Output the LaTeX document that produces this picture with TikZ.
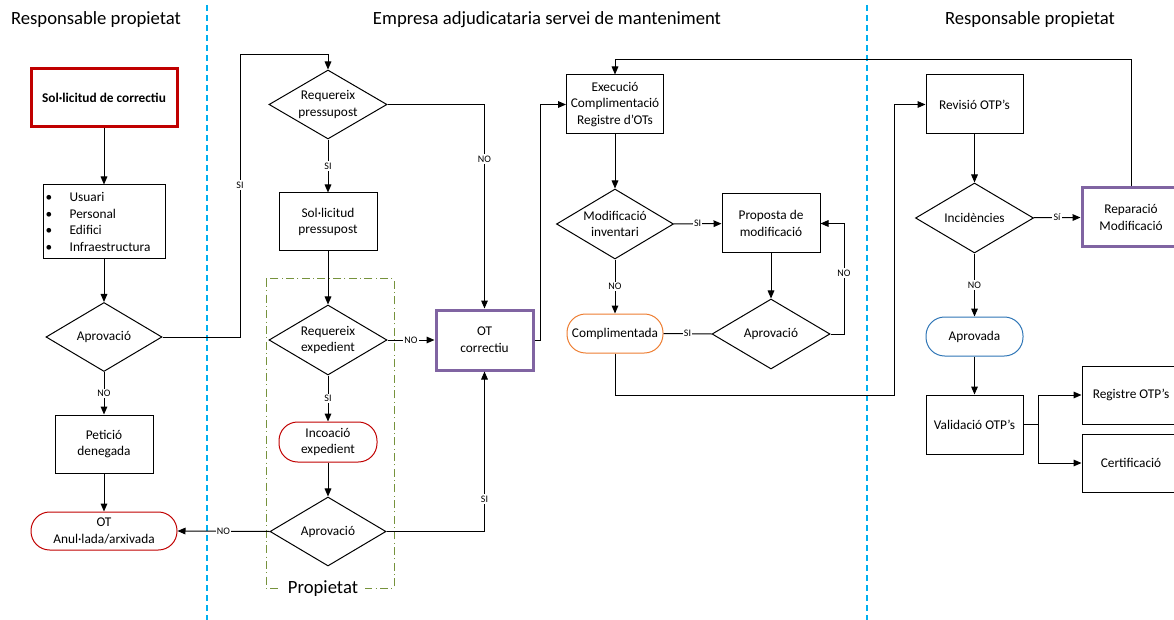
\documentclass[tikz,border=0pt]{standalone}
\usepackage{fontspec}
\setmainfont{Carlito}
\usetikzlibrary{arrows.meta,shapes.geometric}
\definecolor{dred}{HTML}{C00000}
\definecolor{purp}{HTML}{8064A2}
\definecolor{orng}{HTML}{ED7D31}
\definecolor{blu}{HTML}{2E75B6}
\definecolor{divc}{HTML}{00B0F0}
\definecolor{olivegr}{HTML}{76923C}
\begin{document}
\begin{tikzpicture}[x=0.75pt,y=-0.75pt,
  font=\fontsize{10}{12.5}\selectfont,
  ln/.style={draw=black,line width=0.75pt},
  arr/.style={-{Triangle[length=6pt,width=5pt]}},
  sz/.style 2 args={minimum width=#1*0.75pt,minimum height=#2*0.75pt},
  box/.style={rectangle,draw=black,line width=0.75pt,inner sep=1pt,align=center},
  thickred/.style={box,draw=dred,line width=2.25pt},
  thickpurp/.style={box,draw=purp,line width=2.25pt},
  stad/.style={box,rounded corners=14pt},
  dia/.style={diamond,draw=black,line width=0.75pt,inner sep=0pt},
  lbl/.style={fill=white,inner sep=1pt,font=\fontsize{7.5}{9}\selectfont},
  title/.style={font=\fontsize{14}{17}\selectfont},
  divider/.style={draw=divc,line width=1pt,dash pattern=on 4.5pt off 3pt},
  propbox/.style={draw=olivegr,line width=0.75pt,dash pattern=on 6pt off 2.5pt on 0.75pt off 2.5pt}]
\useasboundingbox (0,0) rectangle (1174,620);
\clip (0,0) rectangle (1174,620);

% dividers and titles
\draw[divider] (207,5) -- (207,620);
\draw[divider] (867,5) -- (867,620);
\node[title] (t1) at (96,20) {Responsable propietat};
\node[title] (t2) at (547,20) {Empresa adjudicataria servei de manteniment};
\node[title] (t3) at (1030,20) {Responsable propietat};

% Propietat group
\draw[propbox] (266,279) rectangle (394,588);
\node[title,fill=white,inner xsep=5pt,inner ysep=1pt] (prop) at (323,589) {Propietat};

% column 1
\node[thickred,sz={146}{58}] (sol) at (104,98) {\textbf{Sol·licitud de correctiu}};
\node[box,sz={122}{74},inner xsep=2pt,text width=87.5pt,align=left] (bul) at (104,222)
  {\makebox[18pt][l]{\textbullet}Usuari\\\makebox[18pt][l]{\textbullet}Personal\\\makebox[18pt][l]{\textbullet}Edifici\\\makebox[18pt][l]{\textbullet}Infraestructura};
\node[dia,sz={116}{69},label={[align=center]center:Aprovació}] (ap1) at (104,337) {};
\node[box,sz={98}{58}] (pet) at (104,444) {Petició\\denegada};
\node[stad,draw=dred,sz={146}{38}] (anul) at (104,531) {OT\\Anul·lada/arxivada};

% column 2
\node[dia,sz={118}{69},label={[align=center]center:Requereix\\pressupost}] (rp) at (328,104.5) {};
\node[box,sz={98}{58}] (sp) at (328,222) {Sol·licitud\\pressupost};
\node[dia,sz={118}{70},label={[align=center]center:Requereix\\expedient}] (re) at (328,340) {};
\node[stad,draw=dred,sz={98}{40}] (inc) at (328,442) {Incoació\\expedient};
\node[dia,sz={116}{69},label={[align=center]center:Aprovació}] (ap2) at (328,531.5) {};
\node[thickpurp,sz={97}{60}] (otc) at (484.5,340) {OT\\correctiu};

% column 3
\node[box,sz={97}{59}] (exe) at (615,104.5) {Execució\\Complimentació\\Registre d’OTs};
\node[dia,sz={117}{70},label={[align=center]center:Modificació\\inventari}] (mi) at (615,224) {};
\node[box,sz={98}{59}] (pm) at (771,223.5) {Proposta de\\modificació};
\node[dia,sz={118}{70},label={[align=center]center:Aprovació}] (ap3) at (771,334) {};
\node[stad,draw=orng,sz={96}{39}] (comp) at (615,333.5) {Complimentada};

% column 4
\node[box,sz={97}{59}] (rev) at (974.5,104.5) {Revisió OTP’s};
\node[dia,sz={118}{70},label={[align=center]center:Incidències}] (incd) at (974.5,218) {};
\node[thickpurp,sz={98}{59}] (rep) at (1131,217.5) {Reparació\\Modificació};
\node[stad,draw=blu,sz={97}{39}] (apr) at (974.5,336.5) {Aprovada};
\node[box,sz={97}{59}] (val) at (974.5,424.5) {Validació OTP’s};
\node[box,sz={98}{58}] (reg) at (1131,395) {Registre OTP’s};
\node[box,sz={98}{58}] (cert) at (1131,463) {Certificació};
\coordinate (br) at (1038,424.5);

% connectors column 1
\draw[ln,arr] (sol) -- (bul);
\draw[ln,arr] (bul) -- (ap1);
\draw[ln,arr] (ap1) -- node[lbl]{NO} (pet);
\draw[ln,arr] (pet) -- (anul);
\draw[ln,arr] (ap1.east) -| (240,55) -| (rp.north);
\node[lbl] at (240,185) {SI};

% column 2
\draw[ln,arr] (rp) -- node[lbl]{SI} (sp);
\draw[ln,arr] (sp) -- (re);
\draw[ln,arr] (rp.east) -| (otc.north);
\node[lbl] at (484.5,159) {NO};
\draw[ln,arr] (re.east) -- node[lbl]{NO} (otc.west);
\draw[ln,arr] (re) -- node[lbl]{SI} (inc);
\draw[ln,arr] (inc) -- (ap2);
\draw[ln,arr] (ap2.west) -- node[lbl]{NO} (anul.east);
\draw[ln,arr] (ap2.east) -| (otc.south);
\node[lbl] at (484.5,499) {SI};
\draw[ln,arr] (otc.east) -| (540,104.5) -- (exe.west);

% column 3
\draw[ln,arr] (exe) -- (mi);
\draw[ln,arr] (mi) -- node[lbl]{SI} (pm);
\draw[ln,arr] (pm) -- (ap3);
\draw[ln,arr] (ap3.east) -| (844,273) |- (pm.east);
\node[lbl] at (844,273) {NO};
\draw[ln,arr] (mi) -- node[lbl]{NO} (comp);
\draw[ln] (ap3.west) -- node[lbl]{SI} (comp.east);
\draw[ln,arr] (comp.south) |- (894,395) |- (rev.west);

% column 4
\draw[ln,arr] (rev) -- (incd);
\draw[ln,arr] (incd) -- node[lbl]{Sí} (rep.west);
\draw[ln,arr] (incd) -- node[lbl]{NO} (apr);
\draw[ln,arr] (rep.north) -- ++(0,-127) -| (exe.north);
\draw[ln,arr] (apr) -- (val);
\draw[ln] (val.east) -- (br);
\draw[ln,arr] (br) |- (reg.west);
\draw[ln,arr] (br) |- (cert.west);
\end{tikzpicture}
\end{document}
